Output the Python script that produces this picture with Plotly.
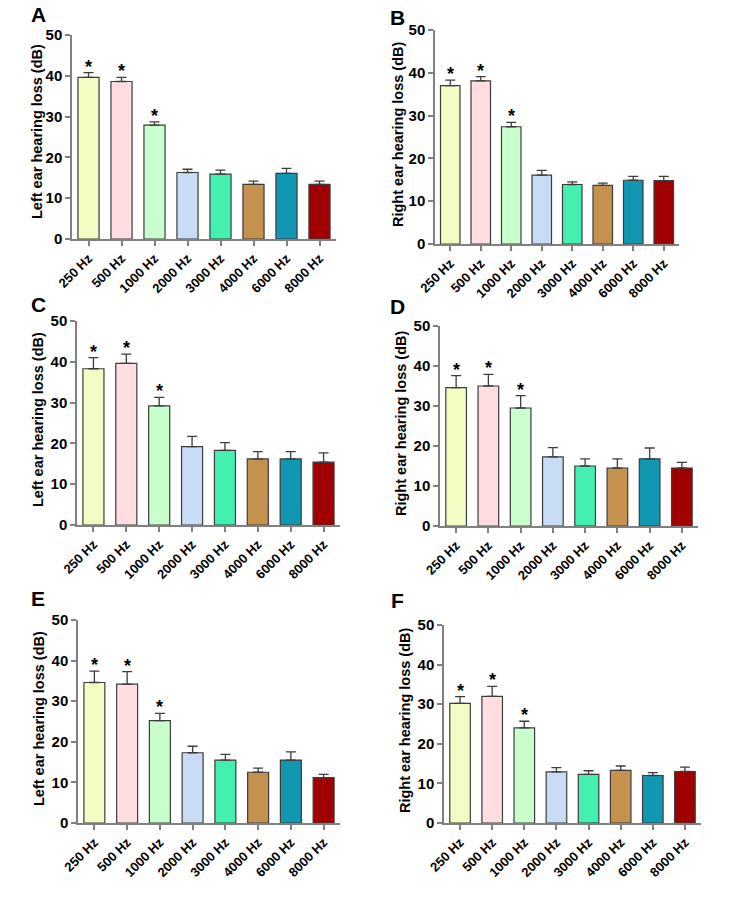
import plotly.graph_objects as go

W, H = 750, 903

categories = ["250 Hz", "500 Hz", "1000 Hz", "2000 Hz", "3000 Hz", "4000 Hz", "6000 Hz", "8000 Hz"]
colors = ["#F3FDC3", "#FFDDE0", "#C8FFCC", "#C8DCF5", "#43F0B0", "#C4914F", "#1297B3", "#A00000"]

# mean values and SEM (upper error)
A_mean = [39.6, 38.6, 27.9, 16.3, 15.9, 13.4, 16.1, 13.4]
A_err = [1.2, 1.0, 0.8, 0.8, 1.0, 0.8, 1.2, 0.8]
B_mean = [37.0, 38.1, 27.4, 16.1, 13.9, 13.7, 14.9, 14.8]
B_err = [1.3, 1.0, 1.0, 1.1, 0.6, 0.5, 0.9, 1.0]
C_mean = [38.3, 39.6, 29.2, 19.2, 18.3, 16.2, 16.2, 15.4]
C_err = [2.7, 2.3, 2.1, 2.5, 1.9, 1.8, 1.8, 2.3]
D_mean = [34.6, 35.0, 29.5, 17.3, 15.0, 14.5, 16.8, 14.5]
D_err = [3.0, 2.9, 3.1, 2.3, 1.8, 2.3, 2.7, 1.4]
E_mean = [34.6, 34.2, 25.2, 17.3, 15.5, 12.5, 15.5, 11.2]
E_err = [2.8, 3.1, 1.8, 1.6, 1.4, 1.0, 2.0, 0.8]
F_mean = [30.2, 32.0, 24.0, 12.9, 12.3, 13.3, 12.0, 13.0]
F_err = [1.7, 2.5, 1.7, 1.1, 0.9, 1.1, 0.7, 1.1]

significant = [True, True, True, False, False, False, False, False]

y_titles = ["Left ear hearing loss (dB)", "Right ear hearing loss (dB)"] * 3
letters = ["A", "B", "C", "D", "E", "F"]
y_ticks = [0, 10, 20, 30, 40, 50]

panels = [
    (A_mean, A_err), (B_mean, B_err), (C_mean, C_err),
    (D_mean, D_err), (E_mean, E_err), (F_mean, F_err),
]

# pixel boxes of plot areas: (x0, x1, ytop, ybottom)
boxes = [
    (72, 336, 35, 239),
    (435, 679, 30, 244),
    (77, 340, 321, 525),
    (440, 698, 326, 526),
    (78, 340, 620, 823),
    (444, 701, 625, 823),
]
title_pos = [(37, 132), (398, 134), (38, 420), (401, 423), (39, 719), (405, 721)]
letter_pos = [(38, 15), (398, 17), (38, 304), (398, 306), (38, 598), (398, 600)]

FONT = "Liberation Sans, Arial, sans-serif"
AXIS_COL = "#808080"

fig = go.Figure()
layout = dict(
    width=W, height=H,
    margin=dict(l=0, r=0, t=0, b=0),
    paper_bgcolor="white", plot_bgcolor="white",
    showlegend=False,
    font=dict(family=FONT, color="black"),
    annotations=[],
)

for i, ((mean, err), box) in enumerate(zip(panels, boxes)):
    n = i + 1
    xa = "x" if n == 1 else f"x{n}"
    ya = "y" if n == 1 else f"y{n}"
    fig.add_trace(go.Bar(
        x=categories, y=mean,
        marker=dict(color=colors, line=dict(color="#3c3c3c", width=1.2)),
        width=0.64,
        error_y=dict(type="data", array=err, arrayminus=[0] * len(err), symmetric=False,
                     color="#3c3c3c", thickness=1.3, width=5),
        xaxis=xa, yaxis=ya,
    ))
    x0, x1, yt, yb = box
    xkey = "xaxis" if n == 1 else f"xaxis{n}"
    ykey = "yaxis" if n == 1 else f"yaxis{n}"
    layout[xkey] = dict(
        domain=[x0 / W, x1 / W], anchor=ya, automargin=False,
        range=[-0.5, len(categories) - 0.5],
        showline=True, linecolor=AXIS_COL, linewidth=1.5,
        ticks="outside", ticklen=5, tickcolor=AXIS_COL, tickwidth=1.5,
        tickangle=-45, showgrid=False, zeroline=False,
        tickfont=dict(family=FONT, size=13, color="black", weight="bold"),
        fixedrange=True,
    )
    layout[ykey] = dict(
        domain=[1 - yb / H, 1 - yt / H], anchor=xa, automargin=False,
        range=[0, 50], tickvals=y_ticks,
        showline=True, linecolor=AXIS_COL, linewidth=1.5,
        ticks="outside", ticklen=5, tickcolor=AXIS_COL, tickwidth=1.5,
        showgrid=False, zeroline=False,
        tickfont=dict(family=FONT, size=15, color="black", weight="bold"),
        fixedrange=True,
    )
    # significance stars
    for c, m, e, s in zip(categories, mean, err, significant):
        if s:
            layout["annotations"].append(dict(
                x=c, y=m + e, xref=xa, yref=ya, text="<b>*</b>", showarrow=False,
                yanchor="bottom", yshift=-6,
                font=dict(family=FONT, size=18, color="black"),
            ))
    # y title
    tx, ty = title_pos[i]
    layout["annotations"].append(dict(
        x=tx / W, y=1 - ty / H, xref="paper", yref="paper",
        text=f"<b>{y_titles[i]}</b>", textangle=-90, showarrow=False,
        xanchor="center", yanchor="middle",
        font=dict(family=FONT, size=14.5, color="black"),
    ))
    lx, ly = letter_pos[i]
    layout["annotations"].append(dict(
        x=lx / W, y=1 - ly / H, xref="paper", yref="paper",
        text=f"<b>{letters[i]}</b>", showarrow=False,
        xanchor="center", yanchor="middle",
        font=dict(family=FONT, size=21, color="black"),
    ))

fig.update_layout(**layout)
fig.write_html("out.html")
